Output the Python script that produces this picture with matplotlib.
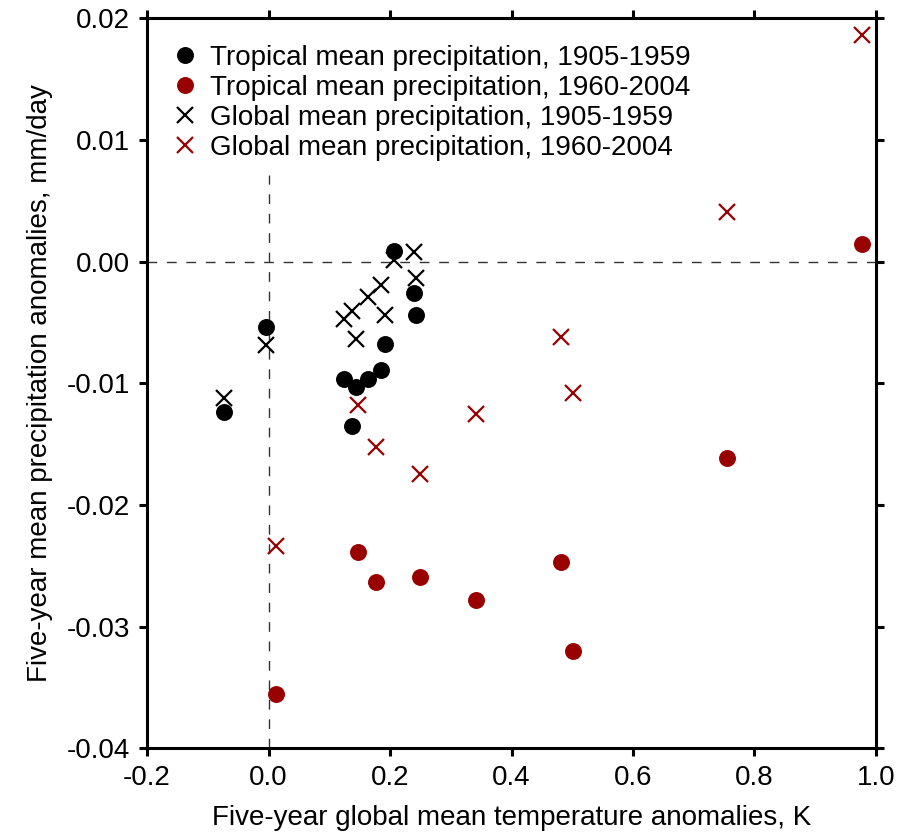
import numpy as np
import matplotlib.pyplot as plt

plt.rcParams['font.family'] = ['Liberation Sans', 'DejaVu Sans']

# five-year means, 1905-1959
temp_early = [-0.0736, -0.004, 0.125, 0.137, 0.144, 0.1635, 0.1855, 0.192, 0.206, 0.239, 0.243]
trop_early = [-0.01233, -0.00534, -0.00967, -0.01348, -0.01027, -0.00964, -0.0089, -0.00679, 0.00088, -0.0026, -0.00438]
glob_early = [-0.01123, -0.00685, -0.00471, -0.00405, -0.00635, -0.00288, -0.00192, -0.00438, 0.0001, 0.00082, -0.00137]

# five-year means, 1960-2004
temp_late = [0.012, 0.147, 0.1766, 0.2497, 0.341, 0.4812, 0.502, 0.7544, 0.9765]
trop_late = [-0.03556, -0.02384, -0.02635, -0.02592, -0.0278, -0.02471, -0.03197, -0.01613, 0.00143]
glob_late = [-0.02334, -0.01179, -0.01526, -0.01745, -0.01252, -0.00622, -0.01082, 0.00406, 0.01863]

red = '#990000'
fs = 20

fig = plt.figure(figsize=(8.98, 8.36), dpi=100)
ax = fig.add_axes([0.1637, 0.1049, 0.8118, 0.8732])

# zero reference lines
ax.axhline(0, color='#333333', lw=1, dashes=(7, 7), zorder=1)
ax.plot([0, 0], [-0.04, 0.0071], color='#333333', lw=1, dashes=(7, 7), zorder=1)

ax.plot(temp_early, trop_early, 'o', color='black', ms=12.2, mew=0,
        label='Tropical mean precipitation, 1905-1959')
ax.plot(temp_late, trop_late, 'o', color=red, ms=12.2, mew=0,
        label='Tropical mean precipitation, 1960-2004')
ax.plot(temp_early, glob_early, 'x', color='black', ms=12, mew=1.6,
        label='Global mean precipitation, 1905-1959')
ax.plot(temp_late, glob_late, 'x', color=red, ms=12, mew=1.6,
        label='Global mean precipitation, 1960-2004')

ax.set_xlim(-0.2, 1.0)
ax.set_ylim(-0.04, 0.02)
ax.set_xticks(np.arange(-0.2, 1.01, 0.2))
ax.set_xticklabels(['-0.2', '0.0', '0.2', '0.4', '0.6', '0.8', '1.0'])
ax.set_yticks(np.arange(-0.04, 0.021, 0.01))
ax.set_yticklabels(['-0.04', '-0.03', '-0.02', '-0.01', '0.00', '0.01', '0.02'])

for s in ax.spines.values():
    s.set_linewidth(2.2)
ax.tick_params(direction='out', length=6, width=2.2, labelsize=fs,
               top=True, right=True, pad=6)

ax.set_xlabel('Five-year global mean temperature anomalies, K', fontsize=fs, labelpad=10)
ax.set_ylabel('Five-year mean precipitation anomalies, mm/day', fontsize=fs, labelpad=10)

ax.legend(loc='upper left', frameon=False, fontsize=fs, handletextpad=0.5,
          handlelength=0.8, labelspacing=0.15, borderaxespad=0.55)

fig.savefig('out.png', dpi=100)
